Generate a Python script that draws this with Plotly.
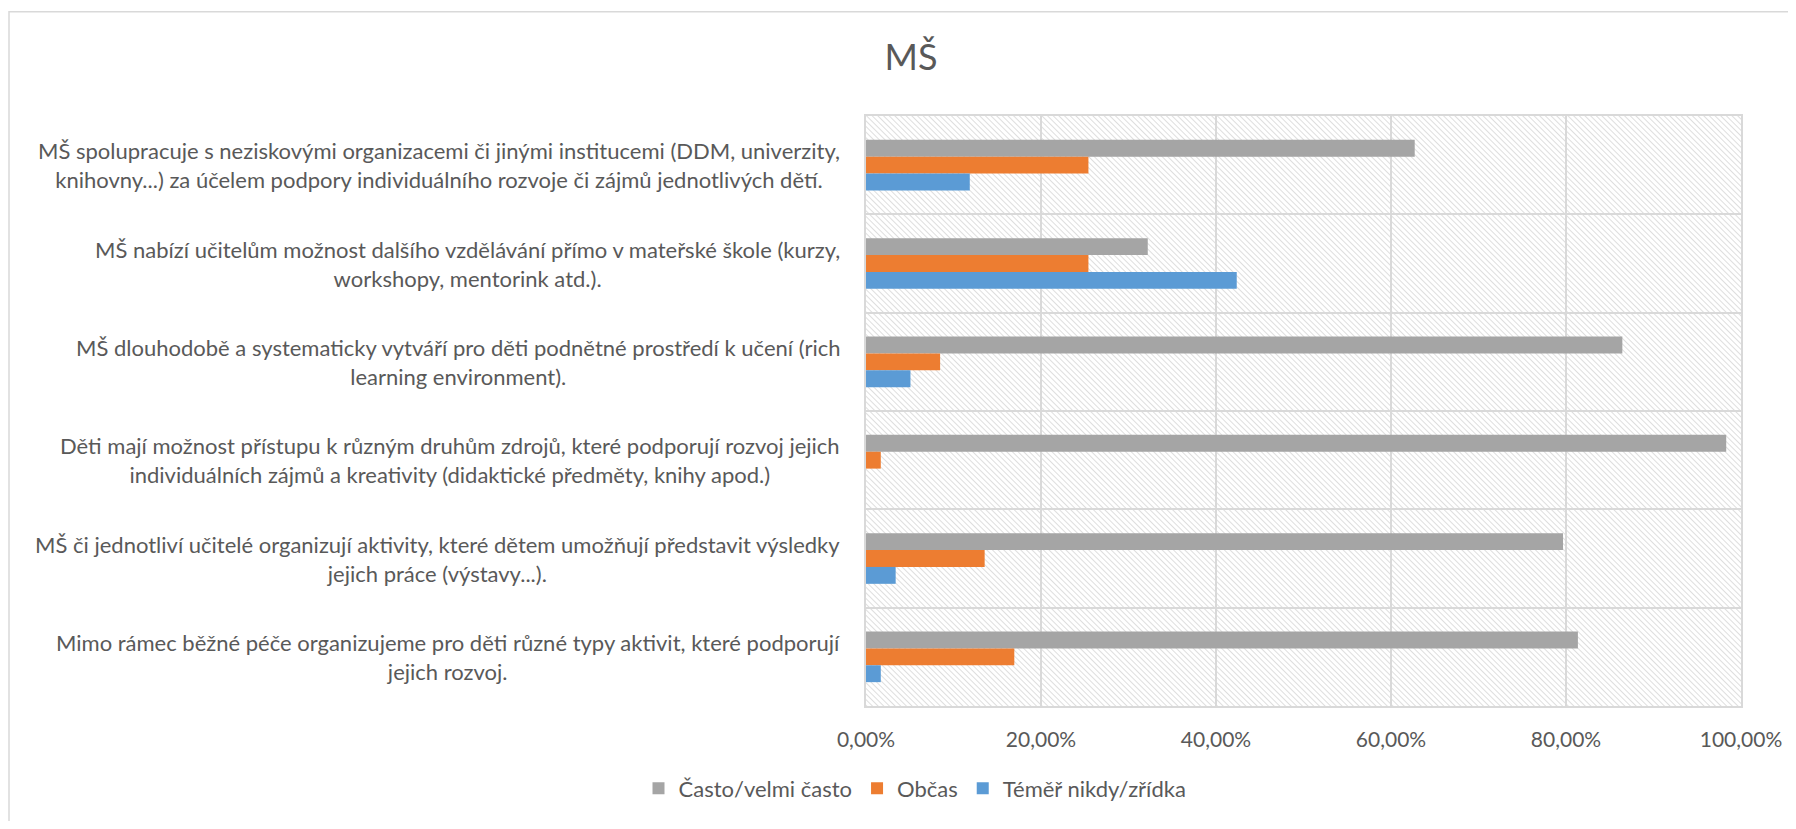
import base64

import plotly.graph_objects as go

# categories, top to bottom as in the reference
categories = [
    "MŠ spolupracuje s neziskovými organizacemi či jinými institucemi (DDM, univerzity,<br>knihovny...) za účelem podpory individuálního rozvoje či zájmů jednotlivých dětí.",
    "MŠ nabízí učitelům možnost dalšího vzdělávání přímo v mateřské škole (kurzy,<br>workshopy, mentorink atd.).",
    "MŠ dlouhodobě a systematicky vytváří pro děti podnětné prostředí k učení (rich<br>learning environment).",
    "Děti mají možnost přístupu k různým druhům zdrojů, které podporují rozvoj jejich<br>individuálních zájmů a kreativity (didaktické předměty, knihy apod.)",
    "MŠ či jednotliví učitelé organizují aktivity, které dětem umožňují představit výsledky<br>jejich práce (výstavy...).",
    "Mimo rámec běžné péče organizujeme pro děti různé typy aktivit, které podporují<br>jejich rozvoj.",
]

series_names = ["Často/velmi často", "Občas", "Téměř nikdy/zřídka"]
often = [0.6271, 0.3220, 0.8644, 0.9831, 0.7966, 0.8136]
sometimes = [0.2542, 0.2542, 0.0847, 0.0169, 0.1356, 0.1695]
rarely = [0.1186, 0.4237, 0.0508, 0.0, 0.0339, 0.0169]
x_ticks = [0, 0.2, 0.4, 0.6, 0.8, 1.0]

COLORS = ["#A5A5A5", "#ED7D31", "#5B9BD5"]
FONT = "Lato"
TEXT_COLOR = "#595959"
GRID = "#D9D9D9"

# the page body has an 8px margin, so the figure is a bit smaller than the window
W, H = 1788, 813
L, R, T, B = 858, 55, 108, 111
PW, PH = W - L - R, H - T - B

# diagonal hatch for the plot area background
hatch_svg = (
    f'<svg xmlns="http://www.w3.org/2000/svg" width="{PW}" height="{PH}">'
    '<defs><pattern id="h" width="4" height="4" patternUnits="userSpaceOnUse" '
    'patternTransform="rotate(-45)">'
    '<line x1="0" y1="0" x2="0" y2="4" stroke="#D0D0D0" stroke-width="1.4"/>'
    '</pattern></defs><rect width="100%" height="100%" fill="url(#h)"/></svg>'
)
hatch_src = "data:image/svg+xml;base64," + base64.b64encode(hatch_svg.encode()).decode()

fig = go.Figure()
for name, vals, color in zip(series_names, [often, sometimes, rarely], COLORS):
    fig.add_trace(
        go.Bar(
            x=vals,
            y=categories,
            orientation="h",
            name=name,
            marker=dict(color=color, line=dict(width=0)),
            hovertemplate="%{x:.2%}<extra>" + name + "</extra>",
        )
    )

for cat in categories:
    fig.add_annotation(
        text=cat,
        x=0,
        xref="paper",
        xshift=-24,
        xanchor="right",
        y=cat,
        yref="y",
        align="center",
        showarrow=False,
        font=dict(family=FONT, size=22, color=TEXT_COLOR),
    )

# outer chart border (only top and left edges fall inside the window)
fig.add_shape(
    type="rect",
    xref="paper",
    yref="paper",
    x0=(1 - L) / PW,
    x1=1.2,
    y0=-0.5,
    y1=(H - B - 3) / PH,
    line=dict(color=GRID, width=1.5),
    fillcolor="rgba(0,0,0,0)",
    layer="below",
)

fig.add_layout_image(
    source=hatch_src,
    xref="paper",
    yref="paper",
    x=0,
    y=1,
    sizex=1,
    sizey=1,
    xanchor="left",
    yanchor="top",
    sizing="stretch",
    layer="below",
)

fig.update_xaxes(
    range=[0, 1],
    tickvals=x_ticks,
    tickformat=".2%",
    showgrid=True,
    gridcolor=GRID,
    gridwidth=1.5,
    zeroline=False,
    showline=True,
    linecolor=GRID,
    linewidth=1.5,
    mirror=True,
    ticks="",
    tickfont=dict(family=FONT, size=21, color=TEXT_COLOR),
    ticklabelstandoff=14,
)
fig.update_yaxes(
    type="category",
    range=[len(categories) - 0.5, -0.5],
    tickson="boundaries",
    showgrid=True,
    gridcolor=GRID,
    gridwidth=1.5,
    showline=True,
    linecolor=GRID,
    linewidth=1.5,
    mirror=True,
    ticks="",
    showticklabels=False,
)

fig.update_layout(
    width=W,
    height=H,
    margin=dict(l=L, r=R, t=T, b=B),
    barmode="group",
    bargap=0.485,
    bargroupgap=0,
    separators=", ",
    paper_bgcolor="white",
    plot_bgcolor="rgba(0,0,0,0)",
    font=dict(family=FONT, color=TEXT_COLOR),
    title=dict(
        text="MŠ",
        x=903 / W,
        xref="container",
        xanchor="center",
        y=1 - 49 / H,
        yref="container",
        yanchor="middle",
        font=dict(family=FONT, size=36, color=TEXT_COLOR),
    ),
    legend=dict(
        orientation="h",
        x=(907 - L) / PW,
        xanchor="center",
        y=-(785 - (H - B)) / PH,
        yanchor="middle",
        font=dict(family=FONT, size=22, color=TEXT_COLOR),
        itemwidth=30,
        traceorder="normal",
    ),
    showlegend=True,
)

fig.write_html("out.html")
